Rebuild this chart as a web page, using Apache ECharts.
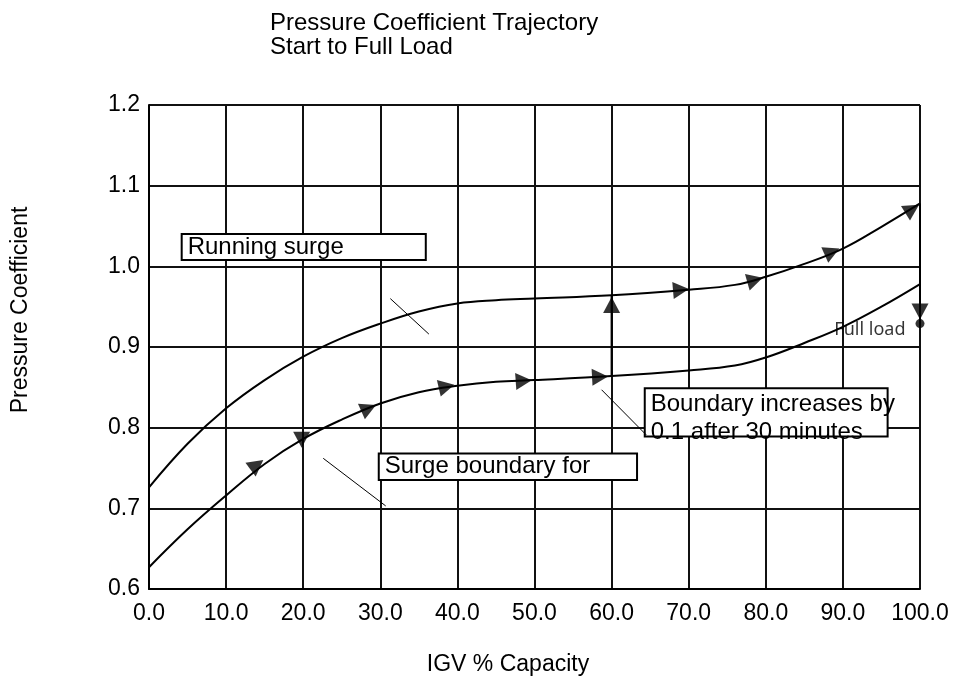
<!DOCTYPE html>
<html>
<head>
<meta charset="utf-8">
<title>Pressure Coefficient Trajectory</title>
<script src="https://cdn.jsdelivr.net/npm/echarts@6/dist/echarts.min.js"></script>
<style>
  html, body { margin: 0; padding: 0; background: #fff; }
  #pressureChart { width: 956px; height: 679px; }
</style>
</head>
<body>
<div id="pressureChart"></div>
<script>
// IGV % capacity positions where the curves were read
const igv = [0, 5, 10, 15, 20, 25, 30, 35, 40, 45, 50, 60, 70, 76, 80, 85, 90, 95, 100]
// running surge line (upper) and surge boundary (lower)
const runningSurge = [0.726, 0.780, 0.824, 0.859, 0.888, 0.911, 0.929, 0.944, 0.954, 0.958, 0.960, 0.964, 0.971, 0.977, 0.987, 1.003, 1.022, 1.049, 1.078]
const surgeBoundary = [0.627, 0.674, 0.716, 0.755, 0.786, 0.810, 0.830, 0.844, 0.852, 0.857, 0.859, 0.864, 0.871, 0.877, 0.887, 0.905, 0.925, 0.950, 0.978]

// trajectory arrows along the curves
const arrowX = [14, 19.8, 28.5, 38.6, 48.6, 58.5, 60, 69, 78.6, 88.6, 99, 100]
const arrowY = [0.754, 0.785, 0.824, 0.851, 0.858, 0.863, 0.952, 0.971, 0.983, 1.018, 1.071, 0.944]

// vertical moves of the trajectory
const jumpAt60 = [[60, 0.864], [60, 0.964]]
const dropAt100 = [[100, 1.078], [100, 0.929]]
const fullLoad = [100, 0.929]

const xTicks = { min: 0, max: 100, step: 10 }
const yTicks = { min: 0.6, max: 1.2, step: 0.1 }

let charts = null

function initCharts () {
  charts = echarts.init(document.getElementById('pressureChart'))
  const font = 'Liberation Sans, Arial, sans-serif'
  // arrow heads point along the path (degrees, counter-clockwise)
  const arrowTurn = [-53, 180, -66, -77, -86, -87, 0, -85, -74, -66, -58, 180]
  const arrowData = arrowX.map((x, i) => ({ value: [x, arrowY[i]], symbolRotate: arrowTurn[i] }))
  const pair = (ys) => igv.map((x, i) => [x, ys[i]])
  const boxStyle = { color: '#fff', borderColor: '#000', borderWidth: 2 }
  const boxLabel = { show: true, position: 'insideLeft', distance: 7, color: '#000', fontSize: 24, fontFamily: font }

  const options = {
    animation: false,
    backgroundColor: '#fff',
    title: {
      text: 'Pressure Coefficient Trajectory\nStart to Full Load',
      left: 270,
      top: 11,
      padding: 0,
      textStyle: { fontSize: 24, fontWeight: 'normal', lineHeight: 24, color: '#000', fontFamily: font }
    },
    grid: { left: 149, right: 36, top: 105, bottom: 90, containLabel: false, outerBoundsMode: 'none' },
    xAxis: {
      type: 'value',
      min: xTicks.min,
      max: xTicks.max,
      interval: xTicks.step,
      axisLine: { lineStyle: { color: '#000', width: 2 } },
      axisTick: { show: false },
      axisLabel: { margin: 13, color: '#000', fontSize: 23, fontFamily: font, formatter: v => v.toFixed(1) },
      splitLine: { lineStyle: { color: '#111', width: 2 } }
    },
    yAxis: {
      type: 'value',
      min: yTicks.min,
      max: yTicks.max,
      interval: yTicks.step,
      axisLine: { show: true, lineStyle: { color: '#000', width: 2 } },
      axisTick: { show: false },
      axisLabel: { margin: 9, color: '#000', fontSize: 23, fontFamily: font, formatter: v => v.toFixed(1) },
      splitLine: { lineStyle: { color: '#111', width: 2 } }
    },
    graphic: [
      {
        type: 'text', x: 21, y: 310, rotation: Math.PI / 2,
        style: { text: 'Pressure Coefficient', fill: '#000', font: '23px ' + font, textAlign: 'center', textVerticalAlign: 'middle' }
      },
      {
        type: 'text', x: 508, y: 665,
        style: { text: 'IGV % Capacity', fill: '#000', font: '23px ' + font, textAlign: 'center', textVerticalAlign: 'middle' }
      }
    ],
    series: [
      {
        name: 'Running surge',
        type: 'line',
        data: pair(runningSurge),
        smooth: 0.4,
        showSymbol: false,
        lineStyle: { color: '#000', width: 2 },
        z: 3
      },
      {
        name: 'Surge boundary',
        type: 'line',
        data: pair(surgeBoundary),
        smooth: 0.4,
        showSymbol: false,
        lineStyle: { color: '#000', width: 2 },
        z: 3
      },
      {
        name: 'Jump',
        type: 'line',
        data: jumpAt60,
        showSymbol: false,
        lineStyle: { color: '#000', width: 2 }
      },
      {
        name: 'Drop',
        type: 'line',
        data: dropAt100,
        showSymbol: false,
        lineStyle: { color: '#000', width: 2 }
      },
      {
        name: 'Notes',
        type: 'line',
        data: [],
        markArea: {
          silent: true,
          itemStyle: boxStyle,
          label: boxLabel,
          data: [
            [{ name: 'Running surge', coord: [4.24, 1.040] }, { coord: [35.9, 1.008] }],
            [{ name: 'Surge boundary for', coord: [29.8, 0.768] }, { coord: [63.3, 0.735] }],
            [
              {
                name: 'Boundary increases by\n0.1 after 30 minutes',
                coord: [64.3, 0.849],
                label: { position: 'insideTopLeft', distance: 0, padding: [3, 0, 0, 7], lineHeight: 28 }
              },
              { coord: [95.8, 0.789] }
            ]
          ]
        }
      },
      {
        name: 'Leader running',
        type: 'line',
        data: [[31.3, 0.960], [36.3, 0.916]],
        showSymbol: false,
        lineStyle: { color: '#000', width: 1 },
        z: 4
      },
      {
        name: 'Leader boundary',
        type: 'line',
        data: [[22.6, 0.762], [30.7, 0.703]],
        showSymbol: false,
        lineStyle: { color: '#000', width: 1 },
        z: 4
      },
      {
        name: 'Leader increase',
        type: 'line',
        data: [[58.7, 0.847], [64.5, 0.791]],
        showSymbol: false,
        lineStyle: { color: '#000', width: 1 },
        z: 4
      },
      {
        name: 'Arrows',
        type: 'scatter',
        data: arrowData,
        symbol: 'triangle',
        symbolSize: [17, 16],
        itemStyle: { color: '#000' },
        z: 5
      },
      {
        name: 'Full load',
        type: 'scatter',
        data: [fullLoad],
        symbol: 'circle',
        symbolSize: 9,
        itemStyle: { color: '#000' },
        label: {
          show: true,
          formatter: 'Full load',
          position: 'left',
          distance: 10,
          offset: [0, 6],
          color: '#000',
          fontSize: 18,
          fontFamily: 'Noto Sans, sans-serif'
        },
        z: 5
      }
    ]
  }
  charts.setOption(options)
}

initCharts()
</script>
</body>
</html>
